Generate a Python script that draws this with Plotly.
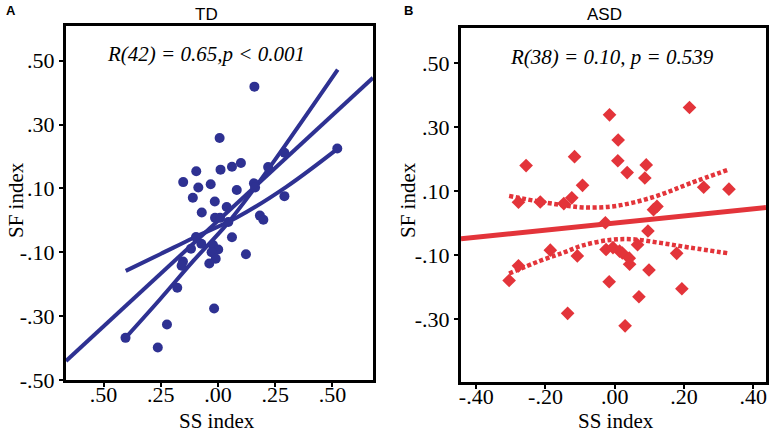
import plotly.graph_objects as go

# ---------------- data: TD panel ----------------
td_ss = [0.159, 0.007, -0.152, -0.095, -0.086, -0.032, -0.110, -0.014, 0.011, 0.061,
         0.100, 0.082, 0.157, 0.162, 0.219, 0.290, 0.290, 0.521, -0.071, 0.038,
         0.183, 0.198, -0.013, 0.009, 0.045, 0.061, -0.096, -0.073, -0.118, -0.022,
         0.001, -0.028, -0.010, -0.038, -0.153, -0.159, -0.178, -0.017, -0.223, -0.404,
         -0.263, 0.122]
td_sf = [0.419, 0.258, 0.120, 0.154, 0.103, 0.113, 0.071, 0.059, 0.159, 0.168,
         0.180, 0.095, 0.116, 0.103, 0.167, 0.212, 0.076, 0.225, 0.025, 0.042,
         0.015, 0.002, 0.008, 0.008, -0.005, -0.053, -0.052, -0.073, -0.089, -0.077,
         -0.091, -0.100, -0.120, -0.135, -0.129, -0.142, -0.211, -0.276, -0.326, -0.368,
         -0.398, -0.106]
td_slope = 0.662
td_intercept = -0.001
td_range_x = [-0.664, 0.677]
td_upper_x = [-0.403, -0.253, -0.108, 0.038, 0.157, 0.314, 0.523]
td_upper_y = [-0.367, -0.247, -0.127, -0.0125, 0.098, 0.256, 0.472]
td_lower_x = [-0.403, -0.253, -0.108, 0.082, 0.300, 0.523]
td_lower_y = [-0.158, -0.106, -0.055, 0.009, 0.106, 0.225]

# ---------------- data: ASD panel ----------------
asd_ss = [0.216, -0.015, 0.010, -0.116, -0.256, 0.009, 0.091, 0.036, 0.087, -0.093,
          0.257, 0.330, -0.278, -0.215, -0.147, -0.124, 0.112, 0.122, -0.027, 0.096,
          -0.186, -0.108, -0.278, -0.305, -0.136, -0.025, -0.005, 0.014, 0.022, 0.042,
          0.043, 0.066, -0.016, 0.070, 0.030, 0.099, 0.179, 0.194]
asd_sf = [0.362, 0.339, 0.260, 0.208, 0.180, 0.195, 0.182, 0.158, 0.141, 0.118,
          0.112, 0.106, 0.065, 0.066, 0.061, 0.079, 0.042, 0.052, 0.001, -0.025,
          -0.085, -0.103, -0.134, -0.180, -0.283, -0.083, -0.077, -0.088, -0.094, -0.110,
          -0.129, -0.068, -0.184, -0.231, -0.322, -0.147, -0.095, -0.206]
asd_slope = 0.111
asd_intercept = 0.0
asd_range_x = [-0.444, 0.437]
asd_ci_x = [-0.305, -0.217, -0.149, -0.092, -0.014, 0.053, 0.130, 0.217, 0.330]
asd_ci_upper = [0.085, 0.067, 0.056, 0.049, 0.051, 0.064, 0.088, 0.124, 0.168]
asd_ci_lower = [-0.158, -0.119, -0.093, -0.070, -0.053, -0.051, -0.062, -0.077, -0.095]

y_ticks = [0.5, 0.3, 0.1, -0.1, -0.3, -0.5]
y_labels = [".50", ".30", ".10", "-.10", "-.30", "-.50"]
td_x_ticks = [-0.5, -0.25, 0.0, 0.25, 0.5]
td_x_labels = [".50", ".25", ".00", ".25", ".50"]
asd_x_ticks = [-0.4, -0.2, 0.0, 0.2, 0.4]
asd_x_labels = ["-.40", "-.20", ".00", ".20", ".40"]

NAVY = "#2E3192"
RED = "#E3343A"
SERIF = "Liberation Serif"
SANS = "Liberation Sans"

fig = go.Figure()

# TD panel
fig.add_trace(go.Scatter(x=td_range_x, y=[td_slope * v + td_intercept for v in td_range_x],
                         mode="lines", line=dict(color=NAVY, width=4), xaxis="x", yaxis="y"))
fig.add_trace(go.Scatter(x=td_upper_x, y=td_upper_y, mode="lines",
                         line=dict(color=NAVY, width=4, shape="spline"), xaxis="x", yaxis="y"))
fig.add_trace(go.Scatter(x=td_lower_x, y=td_lower_y, mode="lines",
                         line=dict(color=NAVY, width=4, shape="spline"), xaxis="x", yaxis="y"))
fig.add_trace(go.Scatter(x=td_ss, y=td_sf, mode="markers",
                         marker=dict(symbol="circle", size=10, color=NAVY), xaxis="x", yaxis="y"))

# ASD panel
fig.add_trace(go.Scatter(x=asd_range_x, y=[asd_slope * v + asd_intercept for v in asd_range_x],
                         mode="lines", line=dict(color=RED, width=5), xaxis="x2", yaxis="y2"))
fig.add_trace(go.Scatter(x=asd_ci_x, y=asd_ci_upper, mode="lines",
                         line=dict(color=RED, width=4.5, dash="4px,2.5px", shape="spline"),
                         xaxis="x2", yaxis="y2"))
fig.add_trace(go.Scatter(x=asd_ci_x, y=asd_ci_lower, mode="lines",
                         line=dict(color=RED, width=4.5, dash="4px,2.5px", shape="spline"),
                         xaxis="x2", yaxis="y2"))
fig.add_trace(go.Scatter(x=asd_ss, y=asd_sf, mode="markers",
                         marker=dict(symbol="diamond", size=10.5, color=RED), xaxis="x2", yaxis="y2"))

W, H = 773, 432


def px(x):
    return x / W


def py(y):
    return 1 - y / H


axis_common = dict(showline=True, linecolor="black", linewidth=3, mirror=True,
                   showgrid=False, zeroline=False, ticks="outside", ticklen=4,
                   tickwidth=1.5, tickcolor="black", automargin=False,
                   tickfont=dict(family=SERIF, size=22, color="black"))
x_extra = dict(ticklabelstandoff=-11)

fig.update_layout(
    width=W, height=H,
    margin=dict(l=0, r=0, t=0, b=0, pad=0, autoexpand=False),
    paper_bgcolor="white", plot_bgcolor="white",
    showlegend=False,
    xaxis=dict(domain=[px(66), px(373)], range=[-0.664, 0.677], anchor="y",
               tickvals=td_x_ticks, ticktext=td_x_labels, **axis_common, **x_extra),
    yaxis=dict(domain=[py(380), py(26)], range=[-0.5, 0.609], anchor="x",
               tickvals=y_ticks, ticktext=y_labels, **axis_common),
    xaxis2=dict(domain=[px(461), px(766)], range=[-0.444, 0.437], anchor="y2",
                tickvals=asd_x_ticks, ticktext=asd_x_labels, **axis_common, **x_extra),
    yaxis2=dict(domain=[py(382), py(28)], range=[-0.498, 0.611], anchor="x2",
                tickvals=y_ticks, ticktext=y_labels, **axis_common),
)

ann = [
    dict(text="<b>A</b>", x=px(11), y=py(11), font=dict(family=SANS, size=13)),
    dict(text="<b>B</b>", x=px(408), y=py(11), font=dict(family=SANS, size=13)),
    dict(text="TD", x=px(206), y=py(14.5), font=dict(family=SANS, size=17)),
    dict(text="ASD", x=px(604), y=py(14.5), font=dict(family=SANS, size=17)),
    dict(text="<i>R(42) = 0.65,p &lt; 0.001</i>", x=px(206), y=py(54),
         font=dict(family=SERIF, size=21)),
    dict(text="<i>R(38) = 0.10, p = 0.539</i>", x=px(612), y=py(57),
         font=dict(family=SERIF, size=21)),
    dict(text="SS index", x=px(216.5), y=py(421), font=dict(family=SERIF, size=21)),
    dict(text="SS index", x=px(616), y=py(421), font=dict(family=SERIF, size=21)),
    dict(text="SF index", x=px(16), y=py(200), textangle=-90, font=dict(family=SERIF, size=21)),
    dict(text="SF index", x=px(408), y=py(200), textangle=-90, font=dict(family=SERIF, size=21)),
]
for a in ann:
    a.update(xref="paper", yref="paper", showarrow=False, xanchor="center", yanchor="middle")
    a["font"]["color"] = "black"
    fig.add_annotation(**a)

fig.write_html(
    "out.html",
    config={"displayModeBar": False},
    post_script="document.body.style.margin='0px';document.body.style.overflow='hidden';",
)
